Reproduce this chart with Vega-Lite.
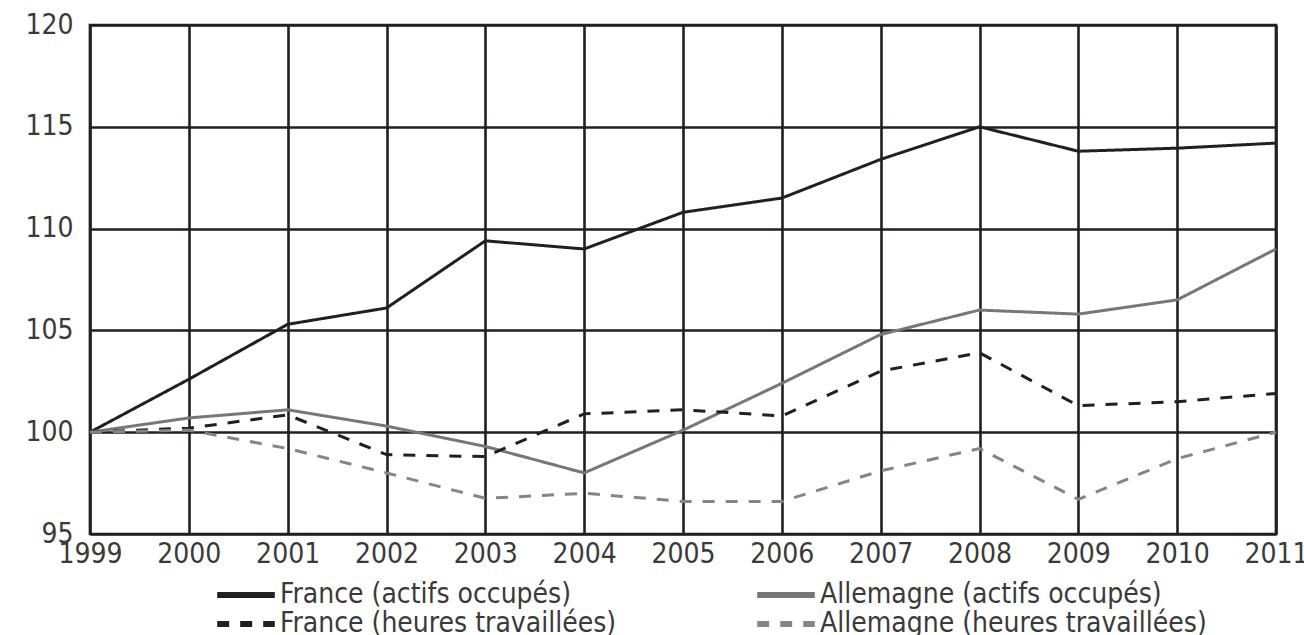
{
  "$schema": "https://vega.github.io/schema/vega-lite/v6.json",
  "width": 1186,
  "height": 509,
  "autosize": {"type": "none"},
  "padding": {"left": 90, "top": 25, "right": 28, "bottom": 101},
  "background": "white",
  "config": {
    "font": "DejaVu Sans Condensed, DejaVu Sans",
    "view": {"stroke": "#231f20", "strokeWidth": 2.7},
    "axis": {
      "domain": false,
      "ticks": false,
      "grid": true,
      "gridColor": "#231f20",
      "gridOpacity": 1,
      "gridWidth": 2.6,
      "labelFont": "DejaVu Sans Condensed, DejaVu Sans",
      "labelFontSize": 28,
      "labelColor": "#3a3a3a",
      "title": null
    }
  },
  "data": {
    "values": [
      {"annee": 1999, "serie": "France (actifs occupés)", "valeur": 100},
      {"annee": 2000, "serie": "France (actifs occupés)", "valeur": 102.6},
      {"annee": 2001, "serie": "France (actifs occupés)", "valeur": 105.3},
      {"annee": 2002, "serie": "France (actifs occupés)", "valeur": 106.1},
      {"annee": 2003, "serie": "France (actifs occupés)", "valeur": 109.4},
      {"annee": 2004, "serie": "France (actifs occupés)", "valeur": 109.0},
      {"annee": 2005, "serie": "France (actifs occupés)", "valeur": 110.8},
      {"annee": 2006, "serie": "France (actifs occupés)", "valeur": 111.5},
      {"annee": 2007, "serie": "France (actifs occupés)", "valeur": 113.4},
      {"annee": 2008, "serie": "France (actifs occupés)", "valeur": 115.0},
      {"annee": 2009, "serie": "France (actifs occupés)", "valeur": 113.8},
      {"annee": 2010, "serie": "France (actifs occupés)", "valeur": 113.95},
      {"annee": 2011, "serie": "France (actifs occupés)", "valeur": 114.2},
      {"annee": 1999, "serie": "Allemagne (actifs occupés)", "valeur": 100},
      {"annee": 2000, "serie": "Allemagne (actifs occupés)", "valeur": 100.7},
      {"annee": 2001, "serie": "Allemagne (actifs occupés)", "valeur": 101.1},
      {"annee": 2002, "serie": "Allemagne (actifs occupés)", "valeur": 100.3},
      {"annee": 2003, "serie": "Allemagne (actifs occupés)", "valeur": 99.3},
      {"annee": 2004, "serie": "Allemagne (actifs occupés)", "valeur": 98.0},
      {"annee": 2005, "serie": "Allemagne (actifs occupés)", "valeur": 100.1},
      {"annee": 2006, "serie": "Allemagne (actifs occupés)", "valeur": 102.4},
      {"annee": 2007, "serie": "Allemagne (actifs occupés)", "valeur": 104.8},
      {"annee": 2008, "serie": "Allemagne (actifs occupés)", "valeur": 106.0},
      {"annee": 2009, "serie": "Allemagne (actifs occupés)", "valeur": 105.8},
      {"annee": 2010, "serie": "Allemagne (actifs occupés)", "valeur": 106.5},
      {"annee": 2011, "serie": "Allemagne (actifs occupés)", "valeur": 109.0},
      {"annee": 1999, "serie": "France (heures travaillées)", "valeur": 100},
      {"annee": 2000, "serie": "France (heures travaillées)", "valeur": 100.2},
      {"annee": 2001, "serie": "France (heures travaillées)", "valeur": 100.85},
      {"annee": 2002, "serie": "France (heures travaillées)", "valeur": 98.9},
      {"annee": 2003, "serie": "France (heures travaillées)", "valeur": 98.8},
      {"annee": 2004, "serie": "France (heures travaillées)", "valeur": 100.9},
      {"annee": 2005, "serie": "France (heures travaillées)", "valeur": 101.1},
      {"annee": 2006, "serie": "France (heures travaillées)", "valeur": 100.8},
      {"annee": 2007, "serie": "France (heures travaillées)", "valeur": 103.0},
      {"annee": 2008, "serie": "France (heures travaillées)", "valeur": 103.9},
      {"annee": 2009, "serie": "France (heures travaillées)", "valeur": 101.3},
      {"annee": 2010, "serie": "France (heures travaillées)", "valeur": 101.5},
      {"annee": 2011, "serie": "France (heures travaillées)", "valeur": 101.9},
      {"annee": 1999, "serie": "Allemagne (heures travaillées)", "valeur": 100},
      {"annee": 2000, "serie": "Allemagne (heures travaillées)", "valeur": 100.1},
      {"annee": 2001, "serie": "Allemagne (heures travaillées)", "valeur": 99.2},
      {"annee": 2002, "serie": "Allemagne (heures travaillées)", "valeur": 98.0},
      {"annee": 2003, "serie": "Allemagne (heures travaillées)", "valeur": 96.75},
      {"annee": 2004, "serie": "Allemagne (heures travaillées)", "valeur": 97.0},
      {"annee": 2005, "serie": "Allemagne (heures travaillées)", "valeur": 96.6},
      {"annee": 2006, "serie": "Allemagne (heures travaillées)", "valeur": 96.6},
      {"annee": 2007, "serie": "Allemagne (heures travaillées)", "valeur": 98.1},
      {"annee": 2008, "serie": "Allemagne (heures travaillées)", "valeur": 99.2},
      {"annee": 2009, "serie": "Allemagne (heures travaillées)", "valeur": 96.7},
      {"annee": 2010, "serie": "Allemagne (heures travaillées)", "valeur": 98.7},
      {"annee": 2011, "serie": "Allemagne (heures travaillées)", "valeur": 100.0}
    ]
  },
  "mark": {"type": "line", "strokeWidth": 3, "clip": false},
  "encoding": {
    "x": {
      "field": "annee",
      "type": "quantitative",
      "scale": {"domain": [1999, 2011], "nice": false, "zero": false},
      "axis": {
        "values": [1999, 2000, 2001, 2002, 2003, 2004, 2005, 2006, 2007, 2008, 2009, 2010, 2011],
        "format": "d",
        "labelPadding": 6,
        "labelFlush": false,
        "labelOverlap": false
      }
    },
    "y": {
      "field": "valeur",
      "type": "quantitative",
      "scale": {"domain": [95, 120], "nice": false, "zero": false},
      "axis": {
        "values": [95, 100, 105, 110, 115, 120],
        "labelPadding": 17,
        "labelFlush": false,
        "labelOverlap": false
      }
    },
    "color": {
      "field": "serie",
      "type": "nominal",
      "scale": {
        "domain": ["France (actifs occupés)", "Allemagne (actifs occupés)", "France (heures travaillées)", "Allemagne (heures travaillées)"],
        "range": ["#231f20", "#777777", "#231f20", "#858585"]
      },
      "legend": {
        "title": null,
        "orient": "none",
        "legendX": 141,
        "legendY": 555,
        "direction": "horizontal",
        "columns": 2,
        "symbolType": "M-2.4,0L2.4,0",
        "symbolSize": 576,
        "symbolStrokeWidth": 6,
        "labelFontSize": 28,
        "labelColor": "#3a3a3a",
        "labelFont": "DejaVu Sans Condensed, DejaVu Sans",
        "labelLimit": 600,
        "labelOffset": 19,
        "columnPadding": 128,
        "rowPadding": 0
      }
    },
    "strokeDash": {
      "field": "serie",
      "type": "nominal",
      "scale": {
        "domain": ["France (actifs occupés)", "Allemagne (actifs occupés)", "France (heures travaillées)", "Allemagne (heures travaillées)"],
        "range": [[1, 0], [1, 0], [12, 11], [12, 11]]
      },
      "legend": {
        "title": null,
        "orient": "none",
        "legendX": 141,
        "legendY": 555,
        "direction": "horizontal",
        "columns": 2,
        "symbolType": "M-2.4,0L2.4,0",
        "symbolSize": 576,
        "symbolStrokeWidth": 6,
        "labelFontSize": 28,
        "labelColor": "#3a3a3a",
        "labelFont": "DejaVu Sans Condensed, DejaVu Sans",
        "labelLimit": 600,
        "labelOffset": 19,
        "columnPadding": 128,
        "rowPadding": 0
      }
    }
  }
}
